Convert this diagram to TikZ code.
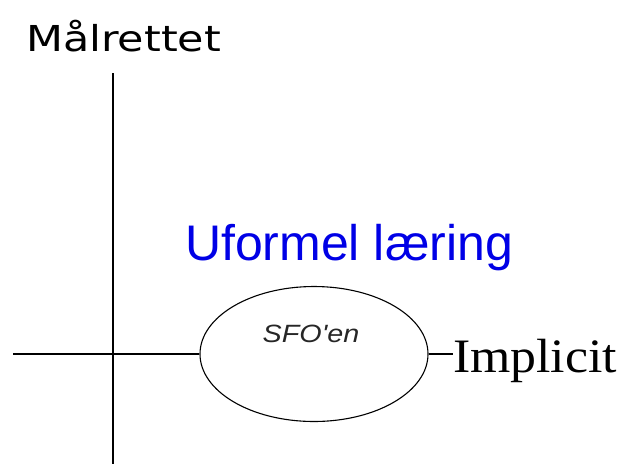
\documentclass[tikz,border=0pt]{standalone}
\usepackage{fontspec}
\setmainfont{Liberation Serif}
\newfontfamily\dejavu{DejaVu Sans}
\newfontfamily\arialf{Liberation Sans}
\usetikzlibrary{shapes.geometric}
\definecolor{winblue}{RGB}{0,0,230}
\begin{document}
\begin{tikzpicture}[x=1pt,y=-1pt,
  axisline/.style={line width=1.6pt,black},
  thinline/.style={line width=1.1pt,black},
  lbl/.style={inner sep=0pt,outer sep=0pt,anchor=base}]
\useasboundingbox (0,0) rectangle (620,464);
% axes
\coordinate (vtop) at (113,73);
\coordinate (vbot) at (113,464);
\coordinate (hleft) at (13,354);
\node[draw,thinline,ellipse,minimum width=228pt,minimum height=135pt,inner sep=0pt] (sfo) at (314,354) {};
\node[lbl,anchor=base west] (impl) at (453,372) {\fontsize{48}{50}\selectfont\scalebox{1.08}[1]{Implicit}};
\draw[axisline] (vtop) -- (vbot);
\draw[axisline] (hleft) -- (sfo.west);
\draw[thinline] (sfo.east) -- (sfo.east -| impl.west);
% labels
\node[lbl] (maal) at (123.5,51) {\dejavu\fontsize{35.7}{38}\selectfont\scalebox{1.2}[1]{Målrettet}};
\node[lbl,text=winblue] (ufl) at (349,260) {\arialf\fontsize{50}{52}\selectfont Uformel læring};
\node[lbl,text=black!85] (sfotext) at (311,342) {\arialf\itshape\fontsize{25}{27}\selectfont\scalebox{1.15}[1]{SFO'en}};
\end{tikzpicture}
\end{document}
